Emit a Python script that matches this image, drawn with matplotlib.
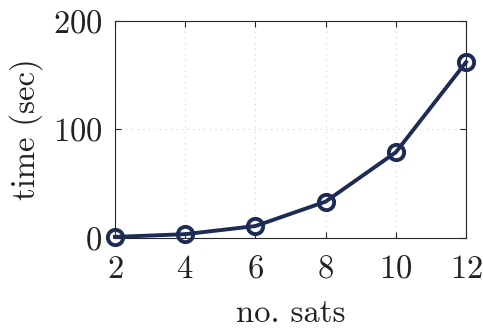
import matplotlib
matplotlib.use('Agg')
import matplotlib.pyplot as plt

# run time vs number of satellites
sats = [2, 4, 6, 8, 10, 12]
times = [1, 3.5, 11, 33.5, 79, 162]
xTicks = [2, 4, 6, 8, 10, 12]
yTicks = [0, 100, 200]

plt.rcParams['font.family'] = 'cmr10'
plt.rcParams['axes.formatter.use_mathtext'] = True
plt.rcParams['mathtext.fontset'] = 'cm'

lineColor = '#1d2b55'
axColor = '#262626'
textColor = '#222222'

fig = plt.figure(figsize=(4.83, 3.31), dpi=100)
fig.patch.set_facecolor('w')
ax = fig.add_axes([0.238, 0.281, 0.727, 0.656])

ax.plot(sats, times, color=lineColor, lw=2.8, marker='o', markersize=11,
        markerfacecolor='none', markeredgewidth=2.8, zorder=3, clip_on=False)

ax.set_xlim(2, 12)
ax.set_ylim(0, 200)
ax.set_xticks(xTicks)
ax.set_yticks(yTicks)
ax.grid(True, linestyle=(0, (1, 4)), color='#cfcfcf', lw=0.8)

for spine in ax.spines.values():
    spine.set_color(axColor)
    spine.set_linewidth(0.8)
ax.tick_params(direction='in', length=4, width=0.8, colors=axColor,
               top=True, right=True, labelsize=23.5)
ax.tick_params(axis='x', pad=12)
ax.tick_params(axis='y', pad=9)
for lbl in ax.get_xticklabels() + ax.get_yticklabels():
    lbl.set_color(textColor)

ax.set_xlabel('no. sats', fontsize=23.5, color=textColor, labelpad=11)
ax.set_ylabel('time (sec)', fontsize=23.5, color=textColor, labelpad=7)

fig.savefig('out.png', dpi=100)
